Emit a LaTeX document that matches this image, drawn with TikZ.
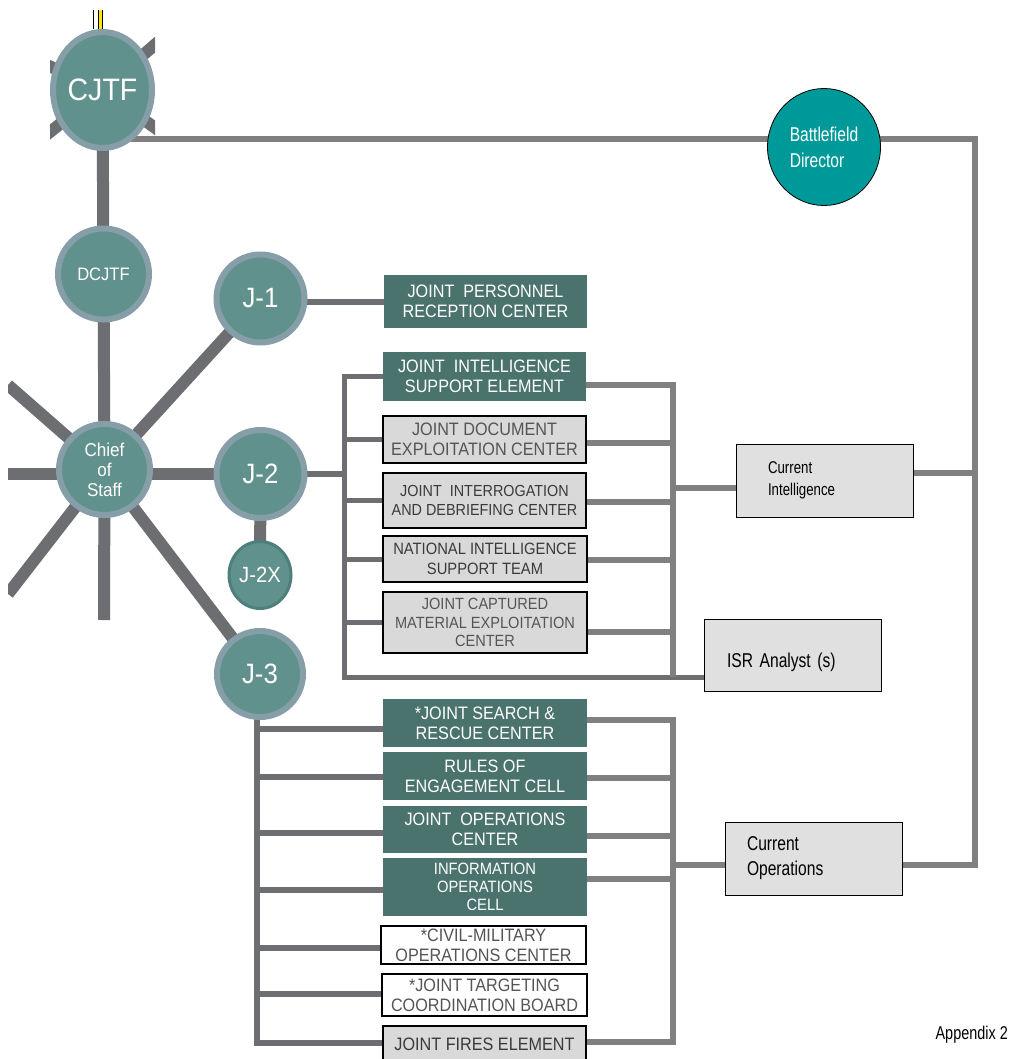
\documentclass[tikz,border=0pt]{standalone}
\usepackage{fontspec}
\setmainfont{Liberation Sans}
\newfontfamily\boxfont{Liberation Sans}[FakeStretch=0.9]
\newfontfamily\narrowfont{Liberation Sans}[FakeStretch=0.78]
\newfontfamily\circfont{Liberation Sans}[FakeStretch=0.92]
\usetikzlibrary{shapes.geometric,backgrounds}
\definecolor{thickgray}{HTML}{6D6E71}
\definecolor{linegray}{HTML}{808080}
\definecolor{circfill}{HTML}{60918C}
\definecolor{ringcol}{HTML}{859EA8}
\definecolor{darkteal}{HTML}{4A736E}
\definecolor{lightbox}{HTML}{D9D9D9}
\definecolor{curbox}{HTML}{E0E0E0}
\definecolor{bdteal}{HTML}{009999}
\definecolor{boxtext}{HTML}{3A3A3A}
\definecolor{softtext}{HTML}{555555}
\definecolor{j2xring}{HTML}{4F7F7B}
\begin{document}
\begin{tikzpicture}[x=1pt,y=-1pt,
  dkbox/.style={rectangle, fill=darkteal, text=white, inner sep=0pt, align=center,
    font={\boxfont\fontsize{18}{20}\selectfont}},
  ltbox/.style={rectangle, fill=lightbox, draw=black, line width=1.4pt, text=boxtext, inner sep=0pt, align=center,
    font={\boxfont\fontsize{18}{20}\selectfont}},
  wtbox/.style={rectangle, fill=white, draw=black, line width=1.4pt, text=softtext, inner sep=0pt, align=center,
    font={\boxfont\fontsize{18}{20}\selectfont}},
  curbx/.style={rectangle, fill=curbox, draw=black, line width=1pt, text=black, align=left,
    font={\narrowfont\fontsize{20}{25}\selectfont}},
  circnode/.style={circle, fill=circfill, draw=ringcol, line width=6pt, text=white, inner sep=0pt, align=center},
  thickln/.style={draw=thickgray, line width=12pt},
  medln/.style={draw=thickgray, line width=6pt},
  rightln/.style={draw=linegray, line width=6pt},
]
\useasboundingbox (0,0) rectangle (1018,1059);

% ---------- nodes ----------
\node[ellipse, fill=circfill, draw=ringcol, line width=6pt, minimum width=99, minimum height=116, inner sep=0pt,
  text=white, font={\circfont\fontsize{31}{34}\selectfont}] (cjtf) at (102.5,90) {CJTF};
\node[circnode, minimum size=91, font={\circfont\fontsize{18}{20}\selectfont}] (dcjtf) at (103.5,274) {DCJTF};
\node[circnode, minimum size=91, font={\circfont\fontsize{18.6}{20}\selectfont}] (chief) at (104.5,469.5) {Chief\\of\\Staff};
\node[circnode, minimum size=88, font={\circfont\fontsize{28}{30}\selectfont}] (j1) at (260.5,298.5) {J-1};
\node[circnode, minimum size=88, font={\circfont\fontsize{28}{30}\selectfont}] (j2) at (260.5,474) {J-2};
\node[ellipse, fill=circfill, draw=j2xring, line width=3pt, minimum width=62, minimum height=67, inner sep=0pt,
  text=white, font={\circfont\fontsize{22}{24}\selectfont}] (j2x) at (260,575) {J-2X};
\node[circnode, minimum size=86, font={\circfont\fontsize{28}{30}\selectfont}] (j3) at (260,674) {J-3};

\node[ellipse, fill=bdteal, draw=black, line width=0.8pt, minimum width=113, minimum height=117, inner sep=0pt,
  text=white, align=left, font={\narrowfont\fontsize{20}{26}\selectfont}] (bd) at (824,147) {Battlefield\\Director};

\node[dkbox, minimum width=203, minimum height=53] (jprc) at (485.5,301.5) {JOINT\ \ PERSONNEL\\RECEPTION CENTER};
\node[dkbox, minimum width=203, minimum height=49] (jise) at (484.5,376.5) {JOINT\ \ INTELLIGENCE\\SUPPORT ELEMENT};
\node[ltbox, text=softtext, minimum width=203, minimum height=47] (jdec) at (484.5,439.5) {JOINT DOCUMENT\\EXPLOITATION CENTER};
\node[ltbox, minimum width=203, minimum height=55, font={\boxfont\fontsize{16}{19}\selectfont}] (jidc) at (484.5,500.5) {JOINT\ \ INTERROGATION\\AND DEBRIEFING CENTER};
\node[ltbox, minimum width=204, minimum height=46, font={\boxfont\fontsize{16.4}{20}\selectfont}] (nist) at (485,559) {NATIONAL INTELLIGENCE\\SUPPORT TEAM};
\node[ltbox, text=softtext, minimum width=204, minimum height=61, font={\boxfont\fontsize{16.2}{18.5}\selectfont}] (jcmec) at (485,622.5) {JOINT CAPTURED\\MATERIAL EXPLOITATION\\CENTER};

\node[dkbox, minimum width=204, minimum height=48] (jsrc) at (485,723) {*JOINT SEARCH \&\\RESCUE CENTER};
\node[dkbox, minimum width=204, minimum height=48] (roe) at (485,776) {RULES OF\\ENGAGEMENT CELL};
\node[dkbox, minimum width=204, minimum height=47] (joc) at (485,829.5) {JOINT\ \ OPERATIONS\\CENTER};
\node[dkbox, minimum width=204, minimum height=58, font={\boxfont\fontsize{16.4}{18.3}\selectfont}] (io) at (485,887) {INFORMATION\\OPERATIONS\\CELL};
\node[wtbox, minimum width=205, minimum height=38] (cmoc) at (483.5,945) {*CIVIL-MILITARY\\OPERATIONS CENTER};
\node[wtbox, minimum width=205, minimum height=42] (jtcb) at (484.5,995) {*JOINT TARGETING\\COORDINATION BOARD};
\node[ltbox, minimum width=203, minimum height=36] (jfe) at (484.5,1044) {JOINT FIRES ELEMENT};

\node[curbx, minimum width=177, minimum height=73, text width=113, inner xsep=32, inner ysep=0pt,
  font={\narrowfont\fontsize{17}{22}\selectfont}] (ci) at (824.5,480.5) {Current\\Intelligence};
\node[curbx, minimum width=177, minimum height=72, text width=131, inner xsep=23, inner ysep=0pt,
  text height=24pt, text depth=0pt] (isr) at (792.5,655) {ISR Analyst (s)};
\node[curbx, minimum width=177, minimum height=73, text width=133, inner xsep=22, inner ysep=0pt] (co) at (813.5,858.5) {Current\\Operations};

\node[anchor=base east, inner sep=0pt, font={\narrowfont\fontsize{18.5}{22}\selectfont}] (app) at (1008,1039) {Appendix 2};

% ---------- coordinates ----------
\coordinate (b2) at (344,0);
\coordinate (b2bot) at (344,677);
\coordinate (ra1) at (673,385);
\coordinate (ra2) at (673,443);
\coordinate (ra3) at (673,502);
\coordinate (ra4) at (673,560);
\coordinate (ra5) at (673,632);
\coordinate (raci) at (673,488);
\coordinate (ra6) at (673,677);
\coordinate (b3x) at (257,0);
\coordinate (b3a) at (257,729);
\coordinate (b3b) at (257,777);
\coordinate (b3c) at (257,833);
\coordinate (b3d) at (257,890);
\coordinate (b3e) at (257,948);
\coordinate (b3f) at (257,994);
\coordinate (b3g) at (257,1043);
\coordinate (rb1) at (673,720);
\coordinate (rb2) at (673,778);
\coordinate (rb3) at (673,836);
\coordinate (rb4) at (673,879);
\coordinate (rbco) at (673,865);
\coordinate (rb5) at (673,1042);
\coordinate (ftop) at (975,139);
\coordinate (fci) at (975,473);
\coordinate (fbot) at (975,865);
\coordinate (l1) at (8,385);
\coordinate (l2) at (8,474);
\coordinate (l3) at (8,594);
\coordinate (l4) at (104,620);
\coordinate (s1) at (40,62);
\coordinate (s2) at (40,140);
\coordinate (s3) at (165,36);
\coordinate (s4) at (165,135);
\coordinate (t1) at (93.5,10);
\coordinate (t2) at (100.5,10);

% ---------- connectors ----------
\begin{pgfonlayer}{background}
  \begin{scope}
    \clip (50,0) rectangle (155,185);
    \draw[thickln] (cjtf.center) -- (s1);
    \draw[thickln] (cjtf.center) -- (s2);
    \draw[thickln] (cjtf.center) -- (s3);
    \draw[thickln] (cjtf.center) -- (s4);
  \end{scope}
  \draw[black, line width=1.5pt] (t1) -- (t1 |- cjtf.north);
  \draw[black, line width=5pt] (t2) -- (t2 |- cjtf.north);
  \draw[yellow!90!orange, line width=2.5pt] (t2) -- (t2 |- cjtf.north);
  \draw[thickln] (cjtf.center) -- (dcjtf.center);
  \draw[thickln] (dcjtf.center) -- (chief.center);
  \begin{scope}
    \clip (8,200) rectangle (400,620);
    \draw[thickln] (chief.center) -- (l1);
    \draw[thickln] (l2) -- (l2 -| chief.center);
    \draw[thickln] (chief.center) -- (l3);
    \draw[thickln] (chief.center) -- (l4);
  \end{scope}
  \draw[thickln] (chief.center) -- (j1.center);
  \draw[thickln] (j2.center) -- (j2.center -| chief.center);
  \draw[thickln] (chief.center) -- (j3.center);
  \draw[thickln] (j2.center) -- (j2x.center);
  \draw[medln] (jprc.west) -- (jprc.west -| j1.center);
  \draw[medln] (j2.center) -- (j2.center -| b2);
  \draw[medln, line width=5pt] (jise.west) -- (jise.west -| b2) -- (b2bot) -- (b2bot -| isr.west);
  \draw[medln, line width=5pt] (jdec.west) -- (jdec.west -| b2);
  \draw[medln, line width=5pt] (jidc.west) -- (jidc.west -| b2);
  \draw[medln, line width=5pt] (nist.west) -- (nist.west -| b2);
  \draw[medln, line width=5pt] (jcmec.west) -- (jcmec.west -| b2);
  \draw[rightln] (ra1 -| jise.east) -- (ra1) -- (ra6);
  \draw[rightln] (ra2 -| jdec.east) -- (ra2);
  \draw[rightln] (ra3 -| jidc.east) -- (ra3);
  \draw[rightln] (ra4 -| nist.east) -- (ra4);
  \draw[rightln] (ra5 -| jcmec.east) -- (ra5);
  \draw[rightln] (raci) -- (raci -| ci.west);
  \draw[medln] (j3.center) -- (j3.center -| b3x) -- (b3g) -- (b3g -| jfe.west);
  \draw[medln] (b3a) -- (b3a -| jsrc.west);
  \draw[medln] (b3b) -- (b3b -| roe.west);
  \draw[medln] (b3c) -- (b3c -| joc.west);
  \draw[medln] (b3d) -- (b3d -| io.west);
  \draw[medln] (b3e) -- (b3e -| cmoc.west);
  \draw[medln] (b3f) -- (b3f -| jtcb.west);
  \draw[rightln] (rb1 -| jsrc.east) -- (rb1) -- (rb5) -- (rb5 -| jfe.east);
  \draw[rightln] (rb2 -| roe.east) -- (rb2);
  \draw[rightln] (rb3 -| joc.east) -- (rb3);
  \draw[rightln] (rb4 -| io.east) -- (rb4);
  \draw[rightln] (rbco) -- (rbco -| co.west);
  \draw[rightln] (ftop -| cjtf.center) -- (ftop) -- (fbot) -- (fbot -| co.east);
  \draw[rightln] (fci) -- (fci -| ci.east);
\end{pgfonlayer}
\end{tikzpicture}
\end{document}
